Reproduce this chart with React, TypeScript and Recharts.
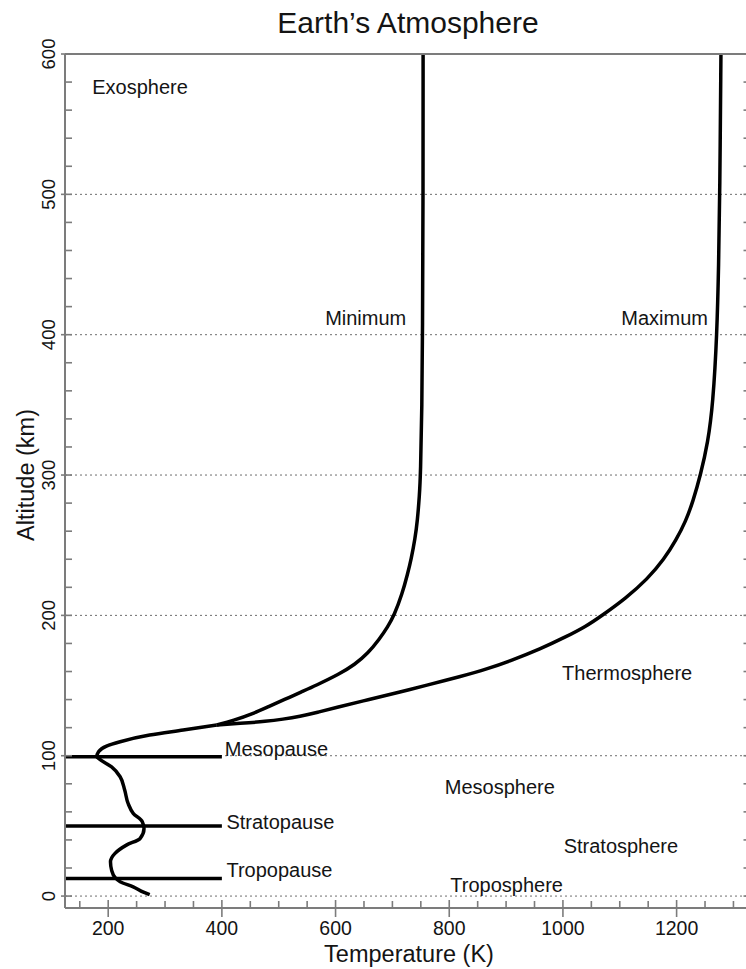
import React from "react";
import { LineChart, Line, XAxis, YAxis, ReferenceLine, ReferenceDot } from "recharts";

// temperature (K) vs altitude (km)
const lowerProfile = [
  { t: 273, alt: 1 },
  { t: 262, alt: 2.8 },
  { t: 244, alt: 6.6 },
  { t: 221, alt: 10.2 },
  { t: 212, alt: 13.3 },
  { t: 206, alt: 18.5 },
  { t: 204, alt: 24.4 },
  { t: 212, alt: 30.4 },
  { t: 232, alt: 36.3 },
  { t: 256, alt: 41 },
  { t: 263, alt: 48 },
  { t: 260, alt: 53 },
  { t: 244, alt: 59 },
  { t: 235, alt: 66 },
  { t: 229, alt: 75.5 },
  { t: 221, alt: 85 },
  { t: 206, alt: 92 },
  { t: 187, alt: 96.9 },
  { t: 180, alt: 99.3 },
  { t: 183, alt: 102.8 },
  { t: 197, alt: 106.9 },
  { t: 221, alt: 110 },
  { t: 273, alt: 114.7 },
  { t: 332, alt: 118.3 },
  { t: 391, alt: 121.9 },
];

const minimumProfile = [
  { t: 391, alt: 121.9 },
  { t: 420, alt: 125 },
  { t: 455, alt: 130 },
  { t: 482, alt: 135 },
  { t: 510, alt: 140 },
  { t: 540, alt: 145.5 },
  { t: 565, alt: 150 },
  { t: 606, alt: 158 },
  { t: 634, alt: 165 },
  { t: 657, alt: 173 },
  { t: 677, alt: 183 },
  { t: 692, alt: 192 },
  { t: 703, alt: 200 },
  { t: 717, alt: 215 },
  { t: 727, alt: 230 },
  { t: 733, alt: 240 },
  { t: 740, alt: 255 },
  { t: 744, alt: 267.5 },
  { t: 747.5, alt: 285 },
  { t: 749.5, alt: 300 },
  { t: 752, alt: 350 },
  { t: 753, alt: 400 },
  { t: 754, alt: 500 },
  { t: 754, alt: 600 },
];

const maximumProfile = [
  { t: 391, alt: 121.9 },
  { t: 431, alt: 123 },
  { t: 479, alt: 124.5 },
  { t: 507, alt: 126 },
  { t: 537, alt: 128 },
  { t: 569, alt: 131 },
  { t: 598, alt: 134 },
  { t: 658, alt: 140 },
  { t: 713, alt: 145.3 },
  { t: 758, alt: 150 },
  { t: 820, alt: 156.4 },
  { t: 868, alt: 162 },
  { t: 910, alt: 168 },
  { t: 960, alt: 176 },
  { t: 1005, alt: 184.7 },
  { t: 1040, alt: 192 },
  { t: 1069, alt: 200 },
  { t: 1110, alt: 212 },
  { t: 1149, alt: 226 },
  { t: 1178, alt: 240 },
  { t: 1199, alt: 253.6 },
  { t: 1216, alt: 267 },
  { t: 1229, alt: 281.4 },
  { t: 1242, alt: 300 },
  { t: 1255, alt: 323 },
  { t: 1264, alt: 351 },
  { t: 1271, alt: 400 },
  { t: 1274, alt: 450 },
  { t: 1276, alt: 500 },
  { t: 1278, alt: 600 },
];

const pauses = [
  { name: "Tropopause", alt: 12.6 },
  { name: "Stratopause", alt: 50 },
  { name: "Mesopause", alt: 99.3 },
];
const pauseEndT = 400;

const gridAltitudes = [0, 100, 200, 300, 400, 500];
const tempTicks = [150, 200, 250, 300, 350, 400, 450, 500, 550, 600, 650, 700, 750, 800, 850, 900, 950, 1000, 1050, 1100, 1150, 1200, 1250, 1300];
const altTicks = [0, 20, 40, 60, 80, 100, 120, 140, 160, 180, 200, 220, 240, 260, 280, 300, 320, 340, 360, 380, 400, 420, 440, 460, 480, 500, 520, 540, 560, 580, 600];

const annotations = [
  { text: "Exosphere", t: 256, alt: 576.5, side: "center" },
  { text: "Minimum", t: 653, alt: 412, side: "center" },
  { text: "Maximum", t: 1179, alt: 412, side: "center" },
  { text: "Thermosphere", t: 1113, alt: 159, side: "center" },
  { text: "Mesosphere", t: 889, alt: 78, side: "center" },
  { text: "Stratosphere", t: 1102, alt: 36, side: "center" },
  { text: "Troposphere", t: 901, alt: 8, side: "center" },
  { text: "Mesopause", t: 405, alt: 105, side: "right" },
  { text: "Stratopause", t: 408, alt: 53, side: "right" },
  { text: "Tropopause", t: 408, alt: 18.5, side: "right" },
];

const T_DOMAIN = [124, 1330];
const ALT_DOMAIN = [-8.5, 600];

const AXIS = "#7c7c7c";
const INK = "#141414";
const FONT = '"Liberation Sans", Arial, sans-serif';

const BottomTick = ({ x, y, payload }: any) => {
  const major = payload.value % 200 === 0;
  return (
    <g>
      <line x1={x} x2={x} y1={y - (major ? 8 : 7)} y2={y + (major ? 9 : 0)} stroke={AXIS} strokeWidth={1.6} />
      {major && (
        <text x={x} y={y + 27} textAnchor="middle" fontSize={19.5} fontFamily={FONT} fill={INK}>
          {payload.value}
        </text>
      )}
    </g>
  );
};

const TopTick = ({ x, y, payload }: any) => {
  const major = payload.value % 200 === 0;
  return <line x1={x} x2={x} y1={y} y2={y + (major ? 12 : 7)} stroke={AXIS} strokeWidth={1.6} />;
};

const LeftTick = ({ x, y, payload }: any) => {
  const major = payload.value % 100 === 0;
  return (
    <g>
      <line x1={major ? x - 4 : x} x2={x + 7} y1={y} y2={y} stroke={AXIS} strokeWidth={1.6} />
      {major && (
        <text transform={`translate(${x - 10},${y}) rotate(-90)`} textAnchor="middle" fontSize={18.5} fontFamily={FONT} fill={INK}>
          {payload.value}
        </text>
      )}
    </g>
  );
};

const RightTick = ({ x, y }: any) => <line x1={x - 7} x2={x} y1={y} y2={y} stroke={AXIS} strokeWidth={1.6} />;

export default function App() {
  return (
    <div style={{ position: "absolute", left: 0, top: 0, width: 746, height: 969, overflow: "hidden", background: "#fff" }}>
      <LineChart width={770} height={969} margin={{ top: 44, right: 9.5, bottom: 21, left: 18 }}>
        <XAxis
          dataKey="t"
          type="number"
          domain={T_DOMAIN}
          allowDataOverflow
          ticks={tempTicks}
          interval={0}
          height={40}
          tickSize={0}
          tickMargin={0}
          tick={<BottomTick />}
          axisLine={{ stroke: AXIS, strokeWidth: 2 }}
        />
        <XAxis
          xAxisId="top"
          orientation="top"
          type="number"
          domain={T_DOMAIN}
          allowDataOverflow
          ticks={tempTicks}
          interval={0}
          height={10}
          tickSize={0}
          tickMargin={0}
          tick={<TopTick />}
          axisLine={{ stroke: AXIS, strokeWidth: 2 }}
        />
        <YAxis
          type="number"
          domain={ALT_DOMAIN}
          allowDataOverflow
          ticks={altTicks}
          interval={0}
          width={47}
          tickSize={0}
          tickMargin={0}
          tick={<LeftTick />}
          axisLine={{ stroke: AXIS, strokeWidth: 2 }}
        />
        <YAxis
          yAxisId="right"
          orientation="right"
          type="number"
          domain={ALT_DOMAIN}
          allowDataOverflow
          ticks={altTicks}
          interval={0}
          width={10}
          tickSize={0}
          tickMargin={0}
          tick={<RightTick />}
          axisLine={{ stroke: AXIS, strokeWidth: 2 }}
        />

        {gridAltitudes.map((a) => (
          <ReferenceLine key={`g${a}`} y={a} stroke="#6e6e6e" strokeWidth={1} strokeDasharray="2 3" />
        ))}

        {pauses.map((p) => (
          <ReferenceLine
            key={p.name}
            segment={[{ x: T_DOMAIN[0], y: p.alt }, { x: pauseEndT, y: p.alt }]}
            stroke="#000"
            strokeWidth={3.5}
          />
        ))}

        <Line data={lowerProfile} dataKey="alt" type="monotoneY" stroke="#000" strokeWidth={3.5} dot={false} isAnimationActive={false} />
        <Line data={minimumProfile} dataKey="alt" type="basis" stroke="#000" strokeWidth={3.5} dot={false} isAnimationActive={false} />
        <Line data={maximumProfile} dataKey="alt" type="basis" stroke="#000" strokeWidth={3.5} dot={false} isAnimationActive={false} />

        {annotations.map((a) => (
          <ReferenceDot
            key={a.text}
            x={a.t}
            y={a.alt}
            r={0}
            fill="none"
            stroke="none"
            label={{ value: a.text, position: a.side, offset: 0, fill: INK, fontSize: 20, fontFamily: FONT }}
          />
        ))}
      </LineChart>

      <svg width={746} height={969} style={{ position: "absolute", left: 0, top: 0, pointerEvents: "none" }}>
        <text x={408} y={33} textAnchor="middle" fontSize={30} fontFamily={FONT} fill={INK}>
          Earth’s Atmosphere
        </text>
        <text x={409} y={962} textAnchor="middle" fontSize={23.5} fontFamily={FONT} fill={INK}>
          Temperature (K)
        </text>
        <text transform="translate(34,475) rotate(-90)" textAnchor="middle" fontSize={23.5} fontFamily={FONT} fill={INK}>
          Altitude (km)
        </text>
      </svg>
    </div>
  );
}
